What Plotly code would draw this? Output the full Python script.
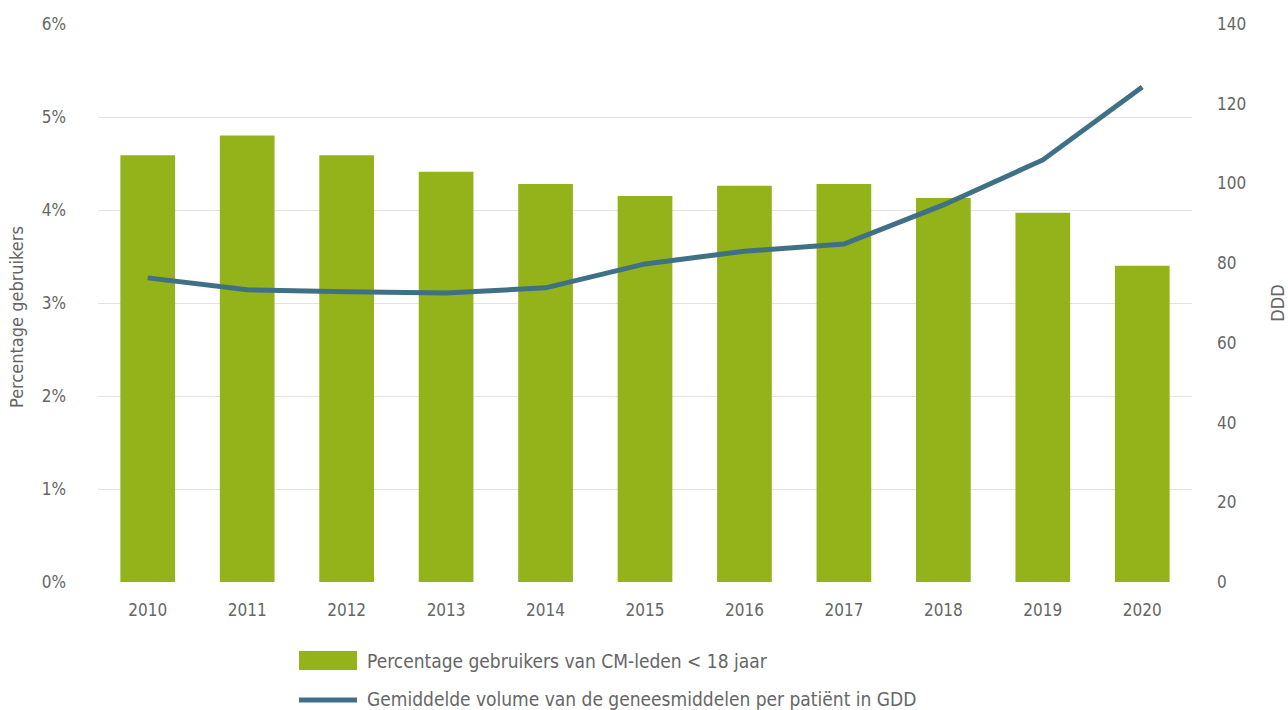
import plotly.graph_objects as go

# Jaren en reeksen
jaren = ["2010", "2011", "2012", "2013", "2014", "2015", "2016", "2017", "2018", "2019", "2020"]
pct_gebruikers = [4.59, 4.80, 4.59, 4.41, 4.28, 4.15, 4.26, 4.28, 4.13, 3.97, 3.40]
volume_ddd = [76.3, 73.3, 72.8, 72.5, 73.8, 79.8, 83.0, 84.8, 94.6, 105.9, 124.2]

pct_ticks = [0, 1, 2, 3, 4, 5, 6]
pct_ticklabels = ["0%", "1%", "2%", "3%", "4%", "5%", "6%"]
ddd_ticks = [0, 20, 40, 60, 80, 100, 120, 140]

naam_balk = "Percentage gebruikers van CM-leden < 18 jaar"
naam_lijn = "Gemiddelde volume van de geneesmiddelen per patiënt in GDD"

GROEN = "#94B219"
BLAUW = "#3F7186"
GRIJS = "#666666"
FONT = "Liberation Sans Narrow, DejaVu Sans Condensed, Roboto, sans-serif"

fig = go.Figure()
fig.add_trace(go.Bar(
    x=jaren, y=pct_gebruikers, name=naam_balk,
    marker=dict(color=GROEN, line=dict(width=0)),
    yaxis="y", showlegend=False,
))
fig.add_trace(go.Scatter(
    x=jaren, y=volume_ddd, name=naam_lijn, mode="lines",
    line=dict(color=BLAUW, width=5),
    yaxis="y2", showlegend=False,
))

fig.update_layout(
    width=1288, height=710,
    margin=dict(l=98, r=96, t=24, b=128),
    paper_bgcolor="white", plot_bgcolor="white",
    font=dict(family=FONT, size=17, color=GRIJS),
    bargap=0.45,
    xaxis=dict(
        showgrid=False, showline=False, zeroline=False,
        ticks="", ticklabelstandoff=16,
        tickfont=dict(size=17, color=GRIJS),
    ),
    yaxis=dict(
        range=[0, 6], tickvals=pct_ticks, ticktext=pct_ticklabels,
        showgrid=True, gridcolor="#E2E2E2", gridwidth=1,
        zeroline=False, showline=False, ticks="",
        ticklabelstandoff=31,
        tickfont=dict(size=17, color=GRIJS),
    ),
    yaxis2=dict(
        range=[0, 140], tickvals=ddd_ticks,
        overlaying="y", side="right",
        showgrid=False, zeroline=False, showline=False, ticks="",
        ticklabelstandoff=24,
        tickfont=dict(size=17, color=GRIJS),
    ),
    showlegend=False,
)

# Astitels
fig.add_annotation(text="Percentage gebruikers", textangle=-90,
                   xref="paper", yref="paper", x=-0.074, y=0.475,
                   xanchor="center", yanchor="middle", showarrow=False,
                   font=dict(size=18, color=GRIJS, family=FONT))
fig.add_annotation(text="DDD", textangle=-90,
                   xref="paper", yref="paper", x=1.0775, y=0.5,
                   xanchor="center", yanchor="middle", showarrow=False,
                   font=dict(size=18, color=GRIJS, family=FONT))

# Legende onderaan
def px_x(v):
    return (v - 98) / 1094

def px_y(v):
    return (582 - v) / 558

fig.add_shape(type="rect", xref="paper", yref="paper",
              x0=px_x(299), x1=px_x(357), y0=px_y(670), y1=px_y(651),
              fillcolor=GROEN, line=dict(width=0))
fig.add_annotation(text=naam_balk, xref="paper", yref="paper",
                   x=px_x(365), y=px_y(661), xanchor="left", yanchor="middle",
                   showarrow=False, font=dict(size=19, color=GRIJS, family=FONT))
fig.add_shape(type="line", xref="paper", yref="paper",
              x0=px_x(299), x1=px_x(357), y0=px_y(700), y1=px_y(700),
              line=dict(color=BLAUW, width=5))
fig.add_annotation(text=naam_lijn, xref="paper", yref="paper",
                   x=px_x(365), y=px_y(699), xanchor="left", yanchor="middle",
                   showarrow=False, font=dict(size=19, color=GRIJS, family=FONT))

fig.write_html("out.html")
